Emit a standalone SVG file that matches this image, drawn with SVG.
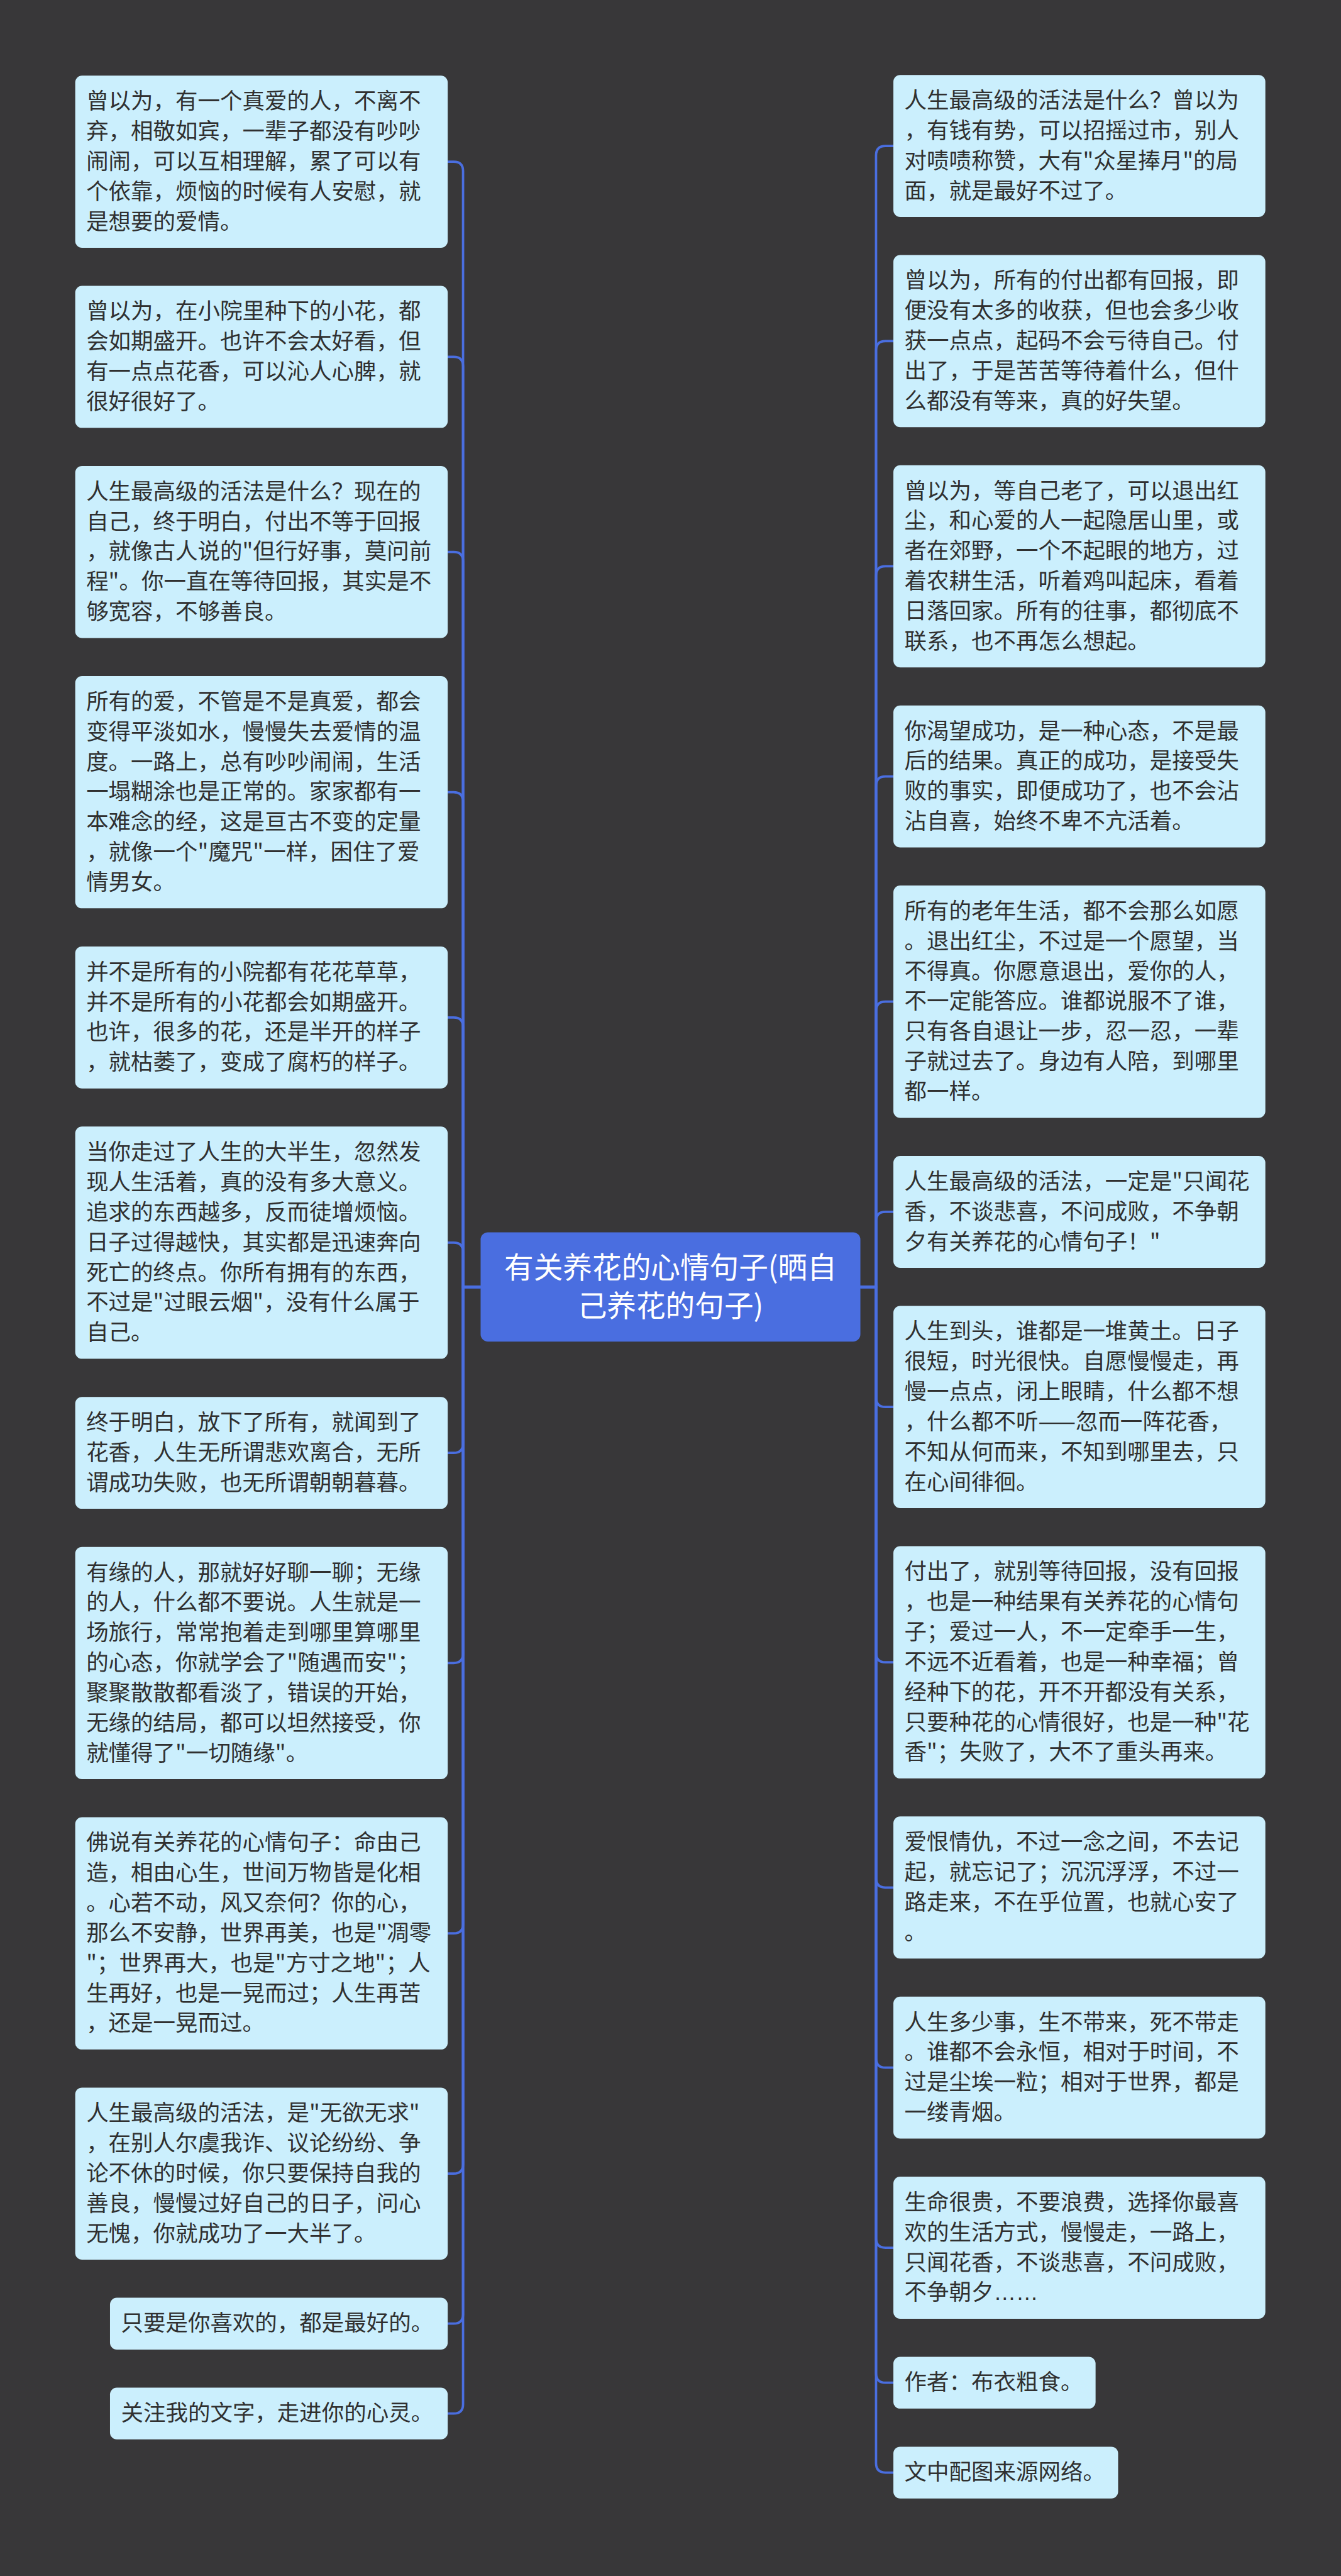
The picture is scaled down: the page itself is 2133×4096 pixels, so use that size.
<svg xmlns="http://www.w3.org/2000/svg" width="2133" height="4096" viewBox="0 0 2133 4096">
<style>
.n{fill:#cbeffd}
.t{font-family:"Noto Sans CJK SC","Liberation Sans",sans-serif;font-size:42.6px;fill:#303030}
.ct{font-family:"Noto Sans CJK SC","Liberation Sans",sans-serif;font-size:56px;fill:#ffffff;text-anchor:middle}
.e{fill:none;stroke:#4a6ee0;stroke-width:4.5}
.el{font-family:"Liberation Sans",sans-serif}
</style>
<rect width="2133" height="4096" fill="#383739"/>
<g transform="scale(0.8332)">
<g id="connectors">
<path class="e" d="M917.5 2456H884V326.6Q884 308.6 866 308.6H854.7"/>
<path class="e" d="M917.5 2456H884V699Q884 681 866 681H854.7"/>
<path class="e" d="M917.5 2456H884V1071.4Q884 1053.4 866 1053.4H854.7"/>
<path class="e" d="M917.5 2456H884V1529.9Q884 1511.9 866 1511.9H854.7"/>
<path class="e" d="M917.5 2456H884V1959.7Q884 1941.7 866 1941.7H854.7"/>
<path class="e" d="M917.5 2456H884V2389.5Q884 2371.5 866 2371.5H854.7"/>
<path class="e" d="M917.5 2456H884V2754.6Q884 2772.6 866 2772.6H854.7"/>
<path class="e" d="M917.5 2456H884V3155.7Q884 3173.7 866 3173.7H854.7"/>
<path class="e" d="M917.5 2456H884V3671.6Q884 3689.6 866 3689.6H854.7"/>
<path class="e" d="M917.5 2456H884V4130.1Q884 4148.1 866 4148.1H854.7"/>
<path class="e" d="M917.5 2456H884V4416.4Q884 4434.4 866 4434.4H854.7"/>
<path class="e" d="M917.5 2456H884V4587.9Q884 4605.9 866 4605.9H854.7"/>
<path class="e" d="M1642.5 2456H1672.4V296.5Q1672.4 278.5 1690.4 278.5H1705.5"/>
<path class="e" d="M1642.5 2456H1672.4V668.9Q1672.4 650.9 1690.4 650.9H1705.5"/>
<path class="e" d="M1642.5 2456H1672.4V1098.7Q1672.4 1080.7 1690.4 1080.7H1705.5"/>
<path class="e" d="M1642.5 2456H1672.4V1499.8Q1672.4 1481.8 1690.4 1481.8H1705.5"/>
<path class="e" d="M1642.5 2456H1672.4V1929.6Q1672.4 1911.6 1690.4 1911.6H1705.5"/>
<path class="e" d="M1642.5 2456H1672.4V2330.7Q1672.4 2312.7 1690.4 2312.7H1705.5"/>
<path class="e" d="M1642.5 2456H1672.4V2667.1Q1672.4 2685.1 1690.4 2685.1H1705.5"/>
<path class="e" d="M1642.5 2456H1672.4V3154.3Q1672.4 3172.3 1690.4 3172.3H1705.5"/>
<path class="e" d="M1642.5 2456H1672.4V3584.1Q1672.4 3602.1 1690.4 3602.1H1705.5"/>
<path class="e" d="M1642.5 2456H1672.4V3927.8Q1672.4 3945.8 1690.4 3945.8H1705.5"/>
<path class="e" d="M1642.5 2456H1672.4V4271.5Q1672.4 4289.5 1690.4 4289.5H1705.5"/>
<path class="e" d="M1642.5 2456H1672.4V4529.1Q1672.4 4547.1 1690.4 4547.1H1705.5"/>
<path class="e" d="M1642.5 2456H1672.4V4700.6Q1672.4 4718.6 1690.4 4718.6H1705.5"/>
</g>

<g id="center">
<rect x="917.5" y="2351.7" width="725" height="208.6" rx="14" fill="#4a6ee0"/>
<text class="ct"><tspan x="1280" y="2439">有关养花的心情句子(晒自</tspan><tspan x="1280" y="2512">己养花的句子)</tspan></text>
</g>

<g id="L1">
<rect class="n" x="143.6" y="144.4" width="711.1" height="328.4" rx="13"/>
<text class="t"><tspan x="164.6" y="207.9">曾以为，有一个真爱的人，不离不</tspan><tspan x="164.6" y="265.3">弃，相敬如宾，一辈子都没有吵吵</tspan><tspan x="164.6" y="322.7">闹闹，可以互相理解，累了可以有</tspan><tspan x="164.6" y="380.1">个依靠，烦恼的时候有人安慰，就</tspan><tspan x="164.6" y="437.5">是想要的爱情。</tspan></text>
</g>
<g id="L2">
<rect class="n" x="143.6" y="545.5" width="711.1" height="271" rx="13"/>
<text class="t"><tspan x="164.6" y="609">曾以为，在小院里种下的小花，都</tspan><tspan x="164.6" y="666.4">会如期盛开。也许不会太好看，但</tspan><tspan x="164.6" y="723.8">有一点点花香，可以沁人心脾，就</tspan><tspan x="164.6" y="781.2">很好很好了。</tspan></text>
</g>
<g id="L3">
<rect class="n" x="143.6" y="889.2" width="711.1" height="328.4" rx="13"/>
<text class="t"><tspan x="164.6" y="952.7">人生最高级的活法是什么？现在的</tspan><tspan x="164.6" y="1010.1">自己，终于明白，付出不等于回报</tspan><tspan x="164.6" y="1067.5">，就像古人说的"但行好事，莫问前</tspan><tspan x="164.6" y="1124.9">程"。你一直在等待回报，其实是不</tspan><tspan x="164.6" y="1182.3">够宽容，不够善良。</tspan></text>
</g>
<g id="L4">
<rect class="n" x="143.6" y="1290.3" width="711.1" height="443.2" rx="13"/>
<text class="t"><tspan x="164.6" y="1353.8">所有的爱，不管是不是真爱，都会</tspan><tspan x="164.6" y="1411.2">变得平淡如水，慢慢失去爱情的温</tspan><tspan x="164.6" y="1468.6">度。一路上，总有吵吵闹闹，生活</tspan><tspan x="164.6" y="1526">一塌糊涂也是正常的。家家都有一</tspan><tspan x="164.6" y="1583.4">本难念的经，这是亘古不变的定量</tspan><tspan x="164.6" y="1640.8">，就像一个"魔咒"一样，困住了爱</tspan><tspan x="164.6" y="1698.2">情男女。</tspan></text>
</g>
<g id="L5">
<rect class="n" x="143.6" y="1806.2" width="711.1" height="271" rx="13"/>
<text class="t"><tspan x="164.6" y="1869.7">并不是所有的小院都有花花草草，</tspan><tspan x="164.6" y="1927.1">并不是所有的小花都会如期盛开。</tspan><tspan x="164.6" y="1984.5">也许，很多的花，还是半开的样子</tspan><tspan x="164.6" y="2041.9">，就枯萎了，变成了腐朽的样子。</tspan></text>
</g>
<g id="L6">
<rect class="n" x="143.6" y="2149.9" width="711.1" height="443.2" rx="13"/>
<text class="t"><tspan x="164.6" y="2213.4">当你走过了人生的大半生，忽然发</tspan><tspan x="164.6" y="2270.8">现人生活着，真的没有多大意义。</tspan><tspan x="164.6" y="2328.2">追求的东西越多，反而徒增烦恼。</tspan><tspan x="164.6" y="2385.6">日子过得越快，其实都是迅速奔向</tspan><tspan x="164.6" y="2443">死亡的终点。你所有拥有的东西，</tspan><tspan x="164.6" y="2500.4">不过是"过眼云烟"，没有什么属于</tspan><tspan x="164.6" y="2557.8">自己。</tspan></text>
</g>
<g id="L7">
<rect class="n" x="143.6" y="2665.8" width="711.1" height="213.6" rx="13"/>
<text class="t"><tspan x="164.6" y="2729.3">终于明白，放下了所有，就闻到了</tspan><tspan x="164.6" y="2786.7">花香，人生无所谓悲欢离合，无所</tspan><tspan x="164.6" y="2844.1">谓成功失败，也无所谓朝朝暮暮。</tspan></text>
</g>
<g id="L8">
<rect class="n" x="143.6" y="2952.1" width="711.1" height="443.2" rx="13"/>
<text class="t"><tspan x="164.6" y="3015.6">有缘的人，那就好好聊一聊；无缘</tspan><tspan x="164.6" y="3073">的人，什么都不要说。人生就是一</tspan><tspan x="164.6" y="3130.4">场旅行，常常抱着走到哪里算哪里</tspan><tspan x="164.6" y="3187.8">的心态，你就学会了"随遇而安"；</tspan><tspan x="164.6" y="3245.2">聚聚散散都看淡了，错误的开始，</tspan><tspan x="164.6" y="3302.6">无缘的结局，都可以坦然接受，你</tspan><tspan x="164.6" y="3360">就懂得了"一切随缘"。</tspan></text>
</g>
<g id="L9">
<rect class="n" x="143.6" y="3468" width="711.1" height="443.2" rx="13"/>
<text class="t"><tspan x="164.6" y="3531.5">佛说有关养花的心情句子：命由己</tspan><tspan x="164.6" y="3588.9">造，相由心生，世间万物皆是化相</tspan><tspan x="164.6" y="3646.3">。心若不动，风又奈何？你的心，</tspan><tspan x="164.6" y="3703.7">那么不安静，世界再美，也是"凋零</tspan><tspan x="164.6" y="3761.1">"；世界再大，也是"方寸之地"；人</tspan><tspan x="164.6" y="3818.5">生再好，也是一晃而过；人生再苦</tspan><tspan x="164.6" y="3875.9">，还是一晃而过。</tspan></text>
</g>
<g id="L10">
<rect class="n" x="143.6" y="3983.9" width="711.1" height="328.4" rx="13"/>
<text class="t"><tspan x="164.6" y="4047.4">人生最高级的活法，是"无欲无求"</tspan><tspan x="164.6" y="4104.8">，在别人尔虞我诈、议论纷纷、争</tspan><tspan x="164.6" y="4162.2">论不休的时候，你只要保持自我的</tspan><tspan x="164.6" y="4219.6">善良，慢慢过好自己的日子，问心</tspan><tspan x="164.6" y="4277">无愧，你就成功了一大半了。</tspan></text>
</g>
<g id="L11">
<rect class="n" x="210" y="4385" width="644.7" height="98.8" rx="13"/>
<text class="t"><tspan x="231" y="4448.5">只要是你喜欢的，都是最好的。</tspan></text>
</g>
<g id="L12">
<rect class="n" x="210" y="4556.5" width="644.7" height="98.8" rx="13"/>
<text class="t"><tspan x="231" y="4620">关注我的文字，走进你的心灵。</tspan></text>
</g>

<g id="R1">
<rect class="n" x="1705.5" y="143" width="710.1" height="271" rx="13"/>
<text class="t"><tspan x="1726.5" y="206.5">人生最高级的活法是什么？曾以为</tspan><tspan x="1726.5" y="263.9">，有钱有势，可以招摇过市，别人</tspan><tspan x="1726.5" y="321.3">对啧啧称赞，大有"众星捧月"的局</tspan><tspan x="1726.5" y="378.7">面，就是最好不过了。</tspan></text>
</g>
<g id="R2">
<rect class="n" x="1705.5" y="486.7" width="710.1" height="328.4" rx="13"/>
<text class="t"><tspan x="1726.5" y="550.2">曾以为，所有的付出都有回报，即</tspan><tspan x="1726.5" y="607.6">便没有太多的收获，但也会多少收</tspan><tspan x="1726.5" y="665">获一点点，起码不会亏待自己。付</tspan><tspan x="1726.5" y="722.4">出了，于是苦苦等待着什么，但什</tspan><tspan x="1726.5" y="779.8">么都没有等来，真的好失望。</tspan></text>
</g>
<g id="R3">
<rect class="n" x="1705.5" y="887.8" width="710.1" height="385.8" rx="13"/>
<text class="t"><tspan x="1726.5" y="951.3">曾以为，等自己老了，可以退出红</tspan><tspan x="1726.5" y="1008.7">尘，和心爱的人一起隐居山里，或</tspan><tspan x="1726.5" y="1066.1">者在郊野，一个不起眼的地方，过</tspan><tspan x="1726.5" y="1123.5">着农耕生活，听着鸡叫起床，看着</tspan><tspan x="1726.5" y="1180.9">日落回家。所有的往事，都彻底不</tspan><tspan x="1726.5" y="1238.3">联系，也不再怎么想起。</tspan></text>
</g>
<g id="R4">
<rect class="n" x="1705.5" y="1346.3" width="710.1" height="271" rx="13"/>
<text class="t"><tspan x="1726.5" y="1409.8">你渴望成功，是一种心态，不是最</tspan><tspan x="1726.5" y="1467.2">后的结果。真正的成功，是接受失</tspan><tspan x="1726.5" y="1524.6">败的事实，即便成功了，也不会沾</tspan><tspan x="1726.5" y="1582">沾自喜，始终不卑不亢活着。</tspan></text>
</g>
<g id="R5">
<rect class="n" x="1705.5" y="1690" width="710.1" height="443.2" rx="13"/>
<text class="t"><tspan x="1726.5" y="1753.5">所有的老年生活，都不会那么如愿</tspan><tspan x="1726.5" y="1810.9">。退出红尘，不过是一个愿望，当</tspan><tspan x="1726.5" y="1868.3">不得真。你愿意退出，爱你的人，</tspan><tspan x="1726.5" y="1925.7">不一定能答应。谁都说服不了谁，</tspan><tspan x="1726.5" y="1983.1">只有各自退让一步，忍一忍，一辈</tspan><tspan x="1726.5" y="2040.5">子就过去了。身边有人陪，到哪里</tspan><tspan x="1726.5" y="2097.9">都一样。</tspan></text>
</g>
<g id="R6">
<rect class="n" x="1705.5" y="2205.9" width="710.1" height="213.6" rx="13"/>
<text class="t"><tspan x="1726.5" y="2269.4">人生最高级的活法，一定是"只闻花</tspan><tspan x="1726.5" y="2326.8">香，不谈悲喜，不问成败，不争朝</tspan><tspan x="1726.5" y="2384.2">夕有关养花的心情句子！"</tspan></text>
</g>
<g id="R7">
<rect class="n" x="1705.5" y="2492.2" width="710.1" height="385.8" rx="13"/>
<text class="t"><tspan x="1726.5" y="2555.7">人生到头，谁都是一堆黄土。日子</tspan><tspan x="1726.5" y="2613.1">很短，时光很快。自愿慢慢走，再</tspan><tspan x="1726.5" y="2670.5">慢一点点，闭上眼睛，什么都不想</tspan><tspan x="1726.5" y="2727.9">，什么都不听——忽而一阵花香，</tspan><tspan x="1726.5" y="2785.3">不知从何而来，不知到哪里去，只</tspan><tspan x="1726.5" y="2842.7">在心间徘徊。</tspan></text>
</g>
<g id="R8">
<rect class="n" x="1705.5" y="2950.7" width="710.1" height="443.2" rx="13"/>
<text class="t"><tspan x="1726.5" y="3014.2">付出了，就别等待回报，没有回报</tspan><tspan x="1726.5" y="3071.6">，也是一种结果有关养花的心情句</tspan><tspan x="1726.5" y="3129">子；爱过一人，不一定牵手一生，</tspan><tspan x="1726.5" y="3186.4">不远不近看着，也是一种幸福；曾</tspan><tspan x="1726.5" y="3243.8">经种下的花，开不开都没有关系，</tspan><tspan x="1726.5" y="3301.2">只要种花的心情很好，也是一种"花</tspan><tspan x="1726.5" y="3358.6">香"；失败了，大不了重头再来。</tspan></text>
</g>
<g id="R9">
<rect class="n" x="1705.5" y="3466.6" width="710.1" height="271" rx="13"/>
<text class="t"><tspan x="1726.5" y="3530.1">爱恨情仇，不过一念之间，不去记</tspan><tspan x="1726.5" y="3587.5">起，就忘记了；沉沉浮浮，不过一</tspan><tspan x="1726.5" y="3644.9">路走来，不在乎位置，也就心安了</tspan><tspan x="1726.5" y="3702.3">。</tspan></text>
</g>
<g id="R10">
<rect class="n" x="1705.5" y="3810.3" width="710.1" height="271" rx="13"/>
<text class="t"><tspan x="1726.5" y="3873.8">人生多少事，生不带来，死不带走</tspan><tspan x="1726.5" y="3931.2">。谁都不会永恒，相对于时间，不</tspan><tspan x="1726.5" y="3988.6">过是尘埃一粒；相对于世界，都是</tspan><tspan x="1726.5" y="4046">一缕青烟。</tspan></text>
</g>
<g id="R11">
<rect class="n" x="1705.5" y="4154" width="710.1" height="271" rx="13"/>
<text class="t"><tspan x="1726.5" y="4217.5">生命很贵，不要浪费，选择你最喜</tspan><tspan x="1726.5" y="4274.9">欢的生活方式，慢慢走，一路上，</tspan><tspan x="1726.5" y="4332.3">只闻花香，不谈悲喜，不问成败，</tspan><tspan x="1726.5" y="4389.7">不争朝夕<tspan class="el">……</tspan></tspan></text>
</g>
<g id="R12">
<rect class="n" x="1705.5" y="4497.7" width="386" height="98.8" rx="13"/>
<text class="t"><tspan x="1726.5" y="4561.2">作者：布衣粗食。</tspan></text>
</g>
<g id="R13">
<rect class="n" x="1705.5" y="4669.2" width="429" height="98.8" rx="13"/>
<text class="t"><tspan x="1726.5" y="4732.7">文中配图来源网络。</tspan></text>
</g>
</g>
</svg>
